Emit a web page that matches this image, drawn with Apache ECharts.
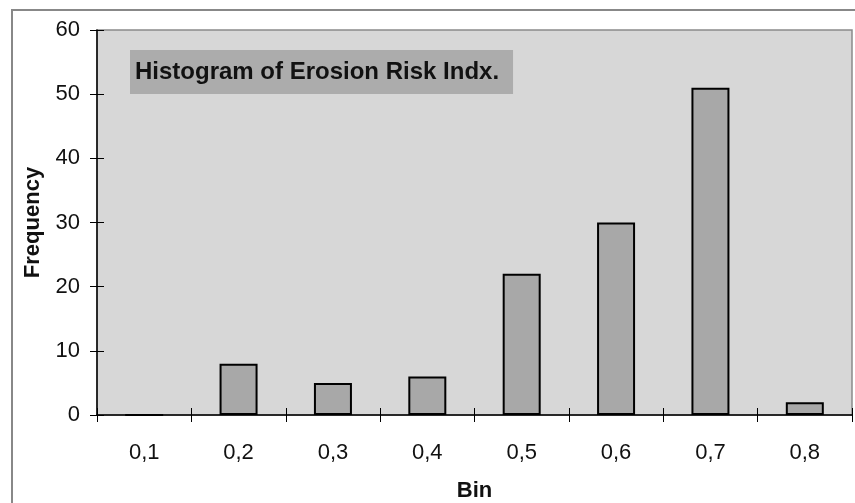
<!DOCTYPE html>
<html>
<head>
<meta charset="utf-8">
<script src="https://cdn.jsdelivr.net/npm/echarts@6/dist/echarts.min.js"></script>
<style>
html,body{margin:0;padding:0;background:#fff;}
#chart{width:855px;height:503px;}
</style>
</head>
<body>
<div id="chart"></div>
<script>
const bins = ['0,1','0,2','0,3','0,4','0,5','0,6','0,7','0,8'];
const frequency = [0, 8, 5, 6, 22, 30, 51, 2];
const yTicks = [0, 10, 20, 30, 40, 50, 60];
const chartTitle = 'Histogram of Erosion Risk Indx.';
const xName = 'Bin';
const yName = 'Frequency';

const FONT = 'Arial, "Liberation Sans", sans-serif';
const chart = echarts.init(document.getElementById('chart'), null, {renderer:'canvas'});
const grid = {left:97, right:3, top:30, bottom:88, containLabel:false, outerBoundsMode:'none',
  show:true, backgroundColor:'#d7d7d7', borderColor:'#8a8a8a', borderWidth:1.5};
chart.setOption({
  animation:false,
  backgroundColor:'#fff',
  grid: grid,
  title: {
    text: chartTitle,
    left: 130, top: 50,
    backgroundColor: '#acacac',
    padding: [10, 14, 10, 5],
    textStyle: {fontFamily: FONT, fontSize: 24, fontWeight: 'bold', color: '#111', lineHeight: 24}
  },
  graphic: [{
    type:'rect', shape:{x:12, y:10, width:860, height:520},
    style:{fill:'none', stroke:'#888', lineWidth:2}, z:-1
  }],
  xAxis: [{
    type:'category', data: bins,
    name: xName, nameLocation:'middle', nameGap: 65,
    nameTextStyle:{fontFamily:FONT, fontSize:22, fontWeight:'bold', color:'#111'},
    axisLine:{lineStyle:{color:'#000', width:1.5}},
    axisTick:{show:true, length:7, lineStyle:{color:'#000'}},
    axisLabel:{fontFamily:FONT, fontSize:22, color:'#111', margin:27},
    splitLine:{show:false}
  },{
    type:'category', data: bins, position:'bottom',
    axisLine:{show:false},
    axisTick:{show:true, inside:true, length:7, lineStyle:{color:'#000'}},
    axisLabel:{show:false}, splitLine:{show:false}
  }],
  yAxis: [{
    type:'value', min: yTicks[0], max: yTicks[yTicks.length-1], interval: 10,
    name: yName, nameLocation:'middle', nameGap: 53,
    nameTextStyle:{fontFamily:FONT, fontSize:22, fontWeight:'bold', color:'#111'},
    axisLine:{show:true, lineStyle:{color:'#000', width:1.5}},
    axisTick:{show:true, length:7, lineStyle:{color:'#000'}},
    axisLabel:{fontFamily:FONT, fontSize:22, color:'#111', margin:17},
    splitLine:{show:false}
  },{
    type:'value', min: yTicks[0], max: yTicks[yTicks.length-1], interval: 10, position:'left',
    axisLine:{show:false},
    axisTick:{show:true, inside:true, length:7, lineStyle:{color:'#000'}},
    axisLabel:{show:false}, splitLine:{show:false}
  }],
  series: [{
    type:'bar', data: frequency, barWidth: 38,
    itemStyle:{color:'#a8a8a8', borderColor:'#000', borderWidth:2}
  }]
});
</script>
</body>
</html>
